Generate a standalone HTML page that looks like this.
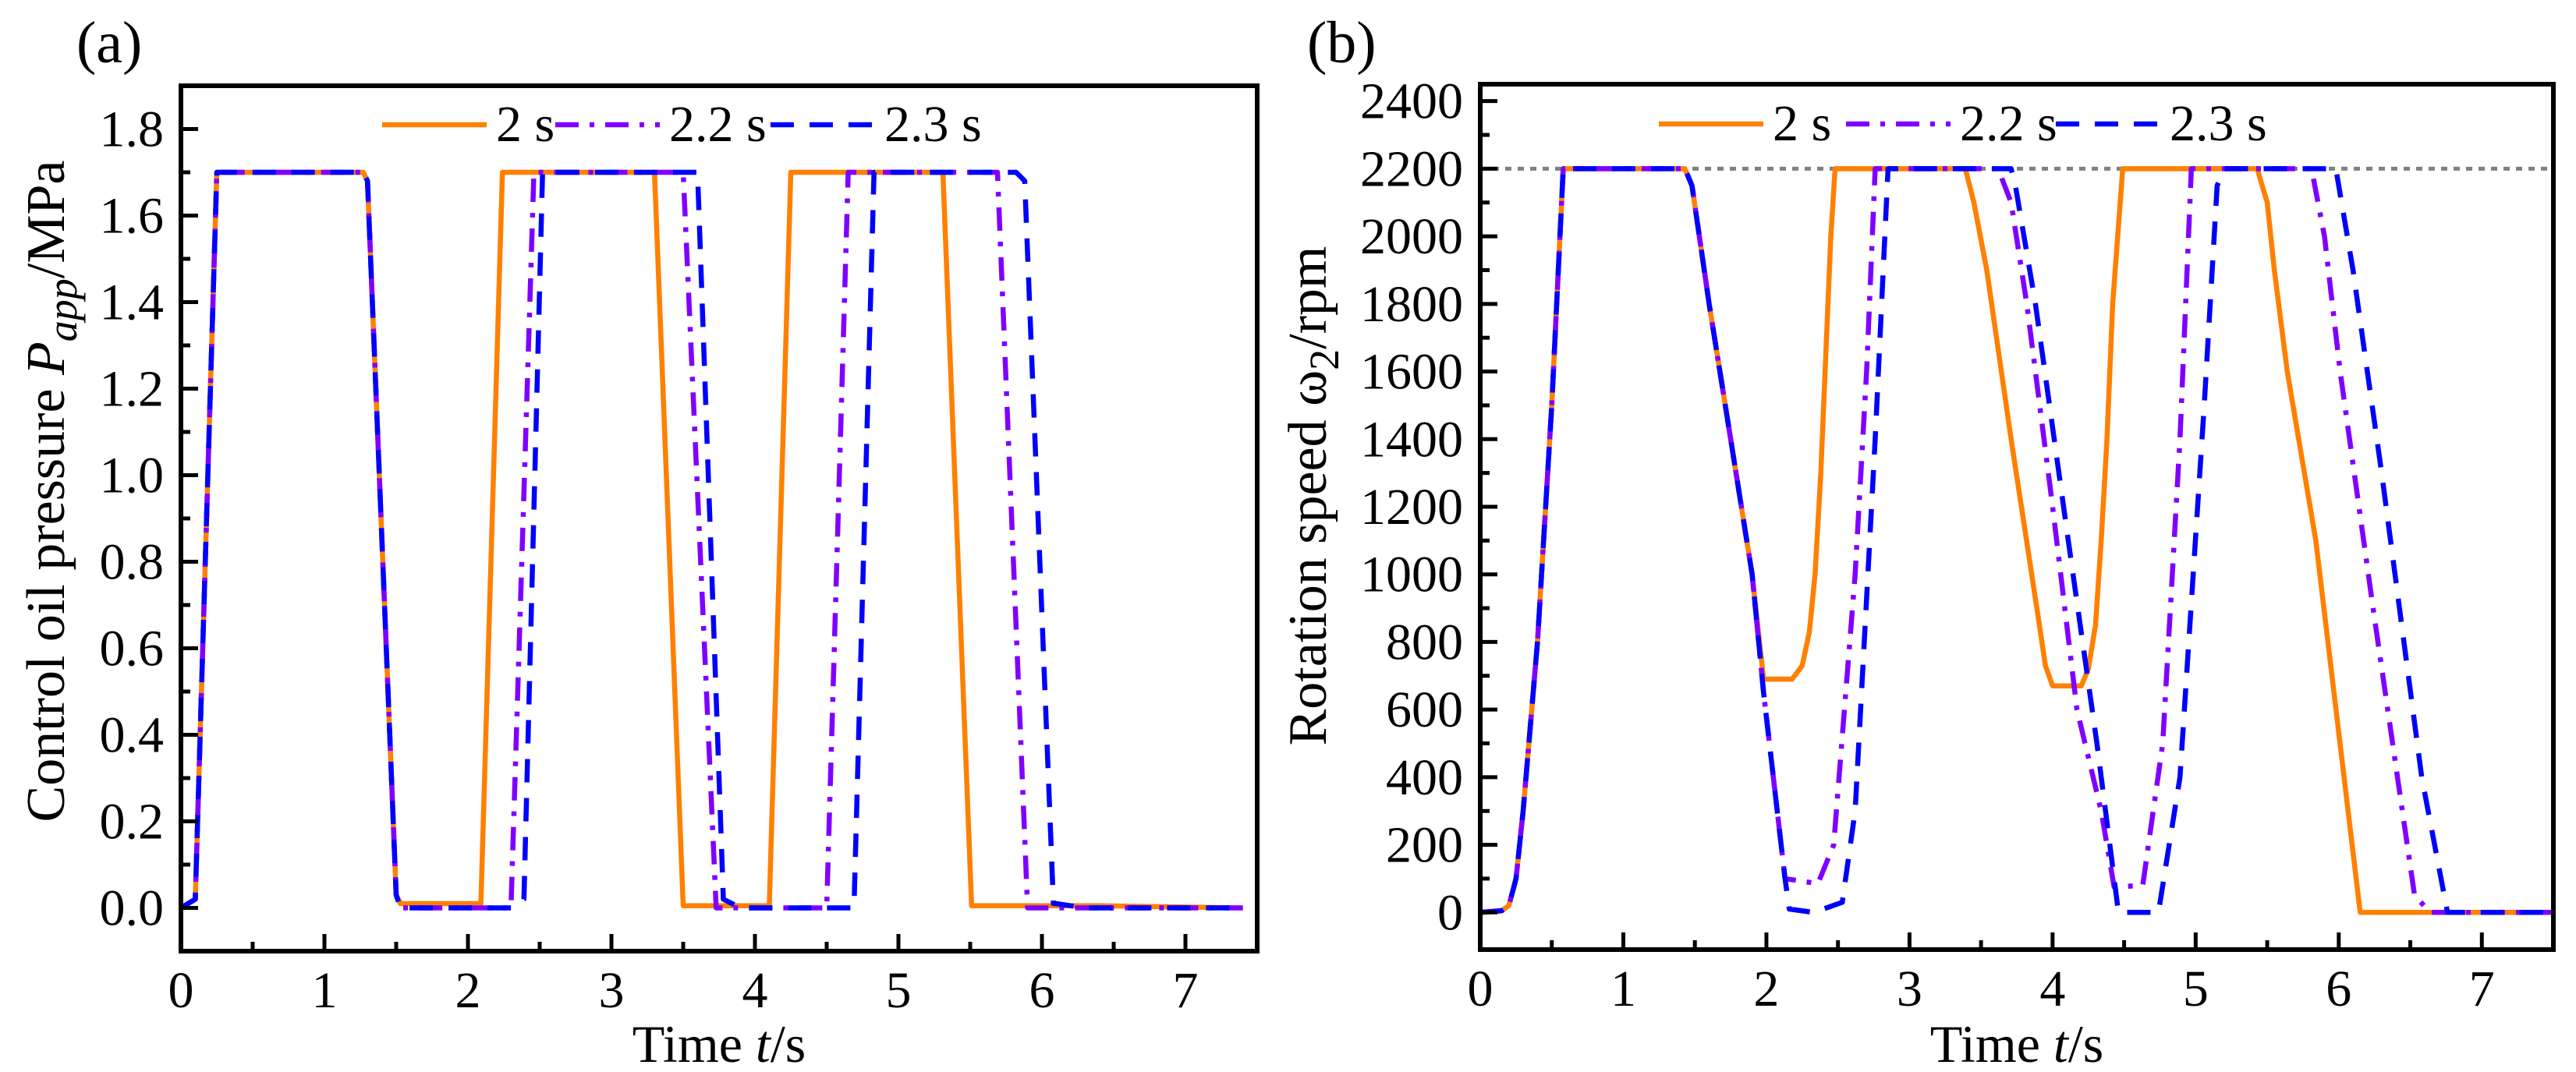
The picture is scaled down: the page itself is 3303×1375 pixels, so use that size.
<!DOCTYPE html>
<html><head><meta charset="utf-8"><style>
html,body{margin:0;padding:0;background:#fff}
svg{display:block}
text{font-family:"Liberation Serif","Times New Roman",serif;fill:#000}
</style></head><body>
<svg id="fig" width="3303" height="1375" viewBox="0 0 3303 1375" xmlns="http://www.w3.org/2000/svg">
<g id="pa"></g>
<g id="pb"></g>
</svg>
<script>
// ---- Panel (a) data: control oil pressure (MPa) ----
const aT_2s   = [0,0.1,0.25,1.27,1.3,1.5,1.53,2.09,2.24,3.30,3.50,4.10,4.25,5.31,5.51,6.4,7.4];
const aV_2s   = [0,0.02,1.7,1.7,1.68,0.03,0.01,0.01,1.7,1.7,0.005,0.005,1.7,1.7,0.005,0.005,0];
const aT_22s  = [0,0.1,0.25,1.27,1.3,1.5,1.53,2.30,2.46,3.50,3.73,4.50,4.65,5.69,5.90,7.4];
const aV_22s  = [0,0.02,1.7,1.7,1.68,0.03,0,0,1.7,1.7,0,0,1.7,1.7,0,0];
const aT_23s  = [0,0.1,0.25,1.27,1.3,1.5,1.53,2.30,2.39,2.52,3.60,3.78,3.9,4.69,4.83,5.82,5.88,6.08,6.1,6.3,7.4];
const aV_23s  = [0,0.02,1.7,1.7,1.68,0.03,0,0,0.02,1.7,1.7,0.02,0,0,1.7,1.7,1.68,0.01,0.01,0,0];
const aYTicks = [0.0,0.2,0.4,0.6,0.8,1.0,1.2,1.4,1.6,1.8];
const xTicks  = [0,1,2,3,4,5,6,7];
// ---- Panel (b) data: rotation speed (rpm) ----
const bT_2s  = [0,0.15,0.2,0.25,0.3,0.4,0.5,0.58,1.43,1.48,1.6,1.75,1.9,1.98,2.18,2.25,2.3,2.34,2.38,2.42,2.45,2.48,3.39,3.45,3.54,3.71,3.89,3.95,4.0,4.2,4.25,4.3,4.34,4.38,4.42,4.49,5.43,5.5,5.55,5.64,5.84,6.15,6.3,7.5];
const bV_2s  = [0,5,20,100,300,800,1500,2200,2200,2150,1800,1400,1000,690,690,730,830,1000,1300,1700,2000,2200,2200,2100,1900,1400,900,730,670,670,720,850,1100,1400,1800,2200,2200,2100,1900,1600,1100,0,0,0];
const bT_22s = [0,0.15,0.2,0.25,0.3,0.4,0.5,0.58,1.43,1.48,1.6,1.75,1.9,1.98,2.13,2.36,2.47,2.62,2.70,2.76,3.62,3.71,3.82,4.0,4.17,4.34,4.43,4.63,4.77,4.89,4.97,5.81,5.9,6.01,6.24,6.53,6.64,7.5];
const bV_22s = [0,5,20,100,300,800,1500,2200,2200,2150,1800,1400,1000,650,100,85,200,1000,1600,2200,2200,2100,1800,1200,600,300,75,80,500,1400,2200,2200,2000,1600,900,50,0,0];
const bT_23s = [0,0.15,0.2,0.25,0.3,0.4,0.5,0.58,1.43,1.48,1.6,1.75,1.9,1.98,2.13,2.16,2.33,2.53,2.62,2.76,2.85,3.71,3.74,3.88,4.11,4.31,4.43,4.46,4.74,4.89,5.06,5.15,5.2,5.98,6.1,6.3,6.58,6.76,7.5];
const bV_23s = [0,5,20,100,300,800,1500,2200,2200,2150,1800,1400,1000,650,100,10,0,30,300,1400,2200,2200,2150,1800,1100,500,100,0,0,400,1500,2150,2200,2200,1900,1300,400,0,0];
const bYTicks = [0,200,400,600,800,1000,1200,1400,1600,1800,2000,2200,2400];
const bRef = [2200];

const NS="http://www.w3.org/2000/svg";
function mk(parent,tag,attrs){const e=document.createElementNS(NS,tag);for(const k in attrs)e.setAttribute(k,attrs[k]);parent.appendChild(e);return e;}

const COL={o:"#FF8000",p:"#8000FF",b:"#0000FF"};
const DASH={o:"",p:"30,14,6,14",b:"30,20"};

function panel(g,cfg){
  const X=t=>cfg.x0+(t-cfg.xmin)/(cfg.xmax-cfg.xmin)*(cfg.x1-cfg.x0);
  const Y=v=>cfg.y1-(v-cfg.ymin)/(cfg.ymax-cfg.ymin)*(cfg.y1-cfg.y0);
  if(cfg.ref){cfg.ref.forEach(r=>{
    const l=mk(g,"line",{x1:cfg.x0,x2:cfg.x1,y1:Y(r),y2:Y(r),stroke:"#808080","stroke-width":5,"stroke-dasharray":"8,8"});
    
    
  });}
  cfg.series.forEach(s=>{
    let d="";s.t.forEach((t,i)=>{d+=(i?"L":"M")+X(t).toFixed(1)+","+Y(s.v[i]).toFixed(1);});
    const p=mk(g,"path",{d:d,fill:"none",stroke:COL[s.c],"stroke-width":6.5,"stroke-dasharray":DASH[s.c]||"none","stroke-linejoin":"round"});
    
    
  });
  const box=mk(g,"rect",{x:cfg.x0,y:cfg.y0,width:cfg.x1-cfg.x0,height:cfg.y1-cfg.y0,fill:"none",stroke:"#000","stroke-width":6});
  
  
  for(let t=0;t<=cfg.xmax+1e-9;t+=0.5){
    const maj=Math.abs(t-Math.round(t))<1e-6;
    mk(g,"line",{x1:X(t),x2:X(t),y1:cfg.y1,y2:cfg.y1-(maj?22:12),stroke:"#000","stroke-width":5});
  }
  xTicks.forEach(t=>{
    const tx=mk(g,"text",{x:X(t),y:cfg.y1+72,"font-size":66,"text-anchor":"middle"});
    tx.textContent=t;
    
    
  });
  const yt=cfg.yTicks;const step=(yt[1]-yt[0])/2;
  for(let v=yt[0];v<=yt[yt.length-1]+1e-9;v+=step){
    const maj=Math.abs((v-yt[0])/(2*step)-Math.round((v-yt[0])/(2*step)))<1e-6;
    mk(g,"line",{x1:cfg.x0,x2:cfg.x0+(maj?22:12),y1:Y(v),y2:Y(v),stroke:"#000","stroke-width":5});
  }
  yt.forEach(v=>{
    const tx=mk(g,"text",{x:cfg.x0-22,y:Y(v)+22,"font-size":66,"text-anchor":"end"});
    tx.textContent=cfg.fmt(v);
    
    
  });
  const xt=mk(g,"text",{x:(cfg.x0+cfg.x1)/2,y:1362,"font-size":68,"text-anchor":"middle"});
  xt.innerHTML='Time <tspan font-style="italic">t</tspan>/s';
  
  
  const ytl=mk(g,"text",{x:0,y:0,"font-size":70,"text-anchor":"middle",transform:`translate(${cfg.ytx},${cfg.ytc}) rotate(-90)`});
  ytl.innerHTML=cfg.ytitle;
  
  
  const pl=mk(g,"text",{x:cfg.lblx,y:80,"font-size":76});
  pl.textContent=cfg.lbl;
  
  
  const lg=mk(g,"g",{});
  
  
  const names=["2 s","2.2 s","2.3 s"],cs=["o","p","b"];
  cfg.leg.forEach((lx,i)=>{
    const e=mk(lg,"g",{});
    
    
    mk(e,"line",{x1:lx,x2:lx+134,y1:cfg.legy,y2:cfg.legy,stroke:COL[cs[i]],"stroke-width":6.5,"stroke-dasharray":DASH[cs[i]]||"none"});
    const t=mk(e,"text",{x:lx+146,y:cfg.legy+21,"font-size":66});t.textContent=names[i];
  });
}

panel(document.getElementById("pa"),{x0:232,x1:1612,y0:110,y1:1220,xmin:0,xmax:7.5,ymin:-0.1,ymax:1.9,
  yTicks:aYTicks,fmt:v=>v.toFixed(1),ytx:82,ytc:630,lblx:98,lbl:"(a)",legy:160,leg:[490,712,988],
  ytitle:'Control oil pressure <tspan font-style="italic">P</tspan><tspan font-style="italic" font-size="54" dy="16">app</tspan><tspan dy="-16">/MPa</tspan>',
  series:[{t:aT_2s,v:aV_2s,c:"o",name:"series-2s"},{t:aT_22s,v:aV_22s,c:"p",name:"series-2-2s"},{t:aT_23s,v:aV_23s,c:"b",name:"series-2-3s"}]});

panel(document.getElementById("pb"),{x0:1898,x1:3274,y0:108,y1:1218,xmin:0,xmax:7.5,ymin:-110,ymax:2450,
  yTicks:bYTicks,fmt:v=>String(v),ytx:1700,ytc:636,lblx:1676,lbl:"(b)",legy:159,leg:[2127,2367,2636],ref:bRef,
  ytitle:'Rotation speed ω<tspan font-size="54" dy="16">2</tspan><tspan dy="-16">/rpm</tspan>',
  series:[{t:bT_2s,v:bV_2s,c:"o",name:"series-2s"},{t:bT_22s,v:bV_22s,c:"p",name:"series-2-2s"},{t:bT_23s,v:bV_23s,c:"b",name:"series-2-3s"}]});
</script>
</body></html>
